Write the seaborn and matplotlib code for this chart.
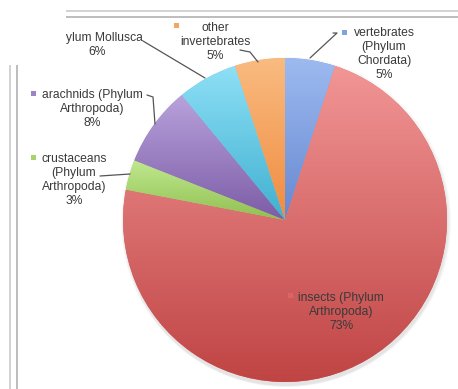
import matplotlib
matplotlib.use("Agg")
import matplotlib.pyplot as plt
import seaborn as sns
import numpy as np
from matplotlib.patches import Rectangle, Circle
from matplotlib.colors import to_rgb

# ---- data ----
categories = ["vertebrates\n(Phylum\nChordata)", "insects (Phylum\nArthropoda)",
              "crustaceans\n(Phylum\nArthropoda)", "arachnids (Phylum\nArthropoda)",
              "Phylum Mollusca", "other\ninvertebrates"]
values = [5, 73, 3, 8, 6, 5]
pct_labels = ["5%", "73%", "3%", "8%", "6%", "5%"]

# styles
colors = ["#7fa3e2", "#dc6464", "#a6d46c", "#9a84c6", "#70cce8", "#f5a665"]
colors_top = ["#9dbaf0", "#f29696", "#c0e890", "#b8a2dc", "#8ee0f6", "#f9bb80"]
colors_bot = ["#6688d0", "#c04444", "#90c050", "#7c5ca6", "#40b0d0", "#f08c40"]

sns.set_theme(style="white")
plt.rcParams['font.family'] = ['Liberation Sans', 'DejaVu Sans']

W, H = 458, 389
fig = plt.figure(figsize=(W / 100, H / 100), dpi=100)
fig.patch.set_facecolor("white")
ax = fig.add_axes([0, 0, 1, 1])

def Y(y):
    return H - y

cx, cy, r = 285, 220, 162

# soft shadow
for k, a in enumerate([0.05, 0.05, 0.05, 0.06]):
    ax.add_patch(Circle((cx + 1, Y(cy) - 2 - k * 0.6), r + 3 - k, color="#808080",
                        alpha=a, lw=0, zorder=0))

wedges, _ = ax.pie(values, colors=sns.color_palette(colors), startangle=90,
                   counterclock=False, center=(cx, Y(cy)), radius=r, frame=True,
                   wedgeprops=dict(linewidth=0, zorder=1))

# vertical gradient inside each wedge
t = np.linspace(0, 1, 256)[:, None, None]
for w, ct, cb in zip(wedges, colors_top, colors_bot):
    ext = w.get_path().get_extents()
    top = np.array(to_rgb(ct))[None, None, :]
    bot = np.array(to_rgb(cb))[None, None, :]
    img = top * (1 - t) + bot * t
    im = ax.imshow(img, extent=(ext.x0, ext.x1, ext.y0, ext.y1), origin="upper",
                   aspect="auto", interpolation="bilinear", zorder=2)
    im.set_clip_path(w)

ax.set_xlim(0, W)
ax.set_ylim(0, H)
ax.set_aspect("equal")
ax.axis("off")

# decorative frame lines of the screenshot
for yy, c in [(11, "#cfcfcf"), (17, "#b8b8b8")]:
    ax.plot([65, W], [Y(yy), Y(yy)], color=c, lw=1.3, solid_capstyle="butt")
for xx, c in [(10, "#cfcfcf"), (17, "#b8b8b8")]:
    ax.plot([xx, xx], [Y(65), Y(H)], color=c, lw=1.3, solid_capstyle="butt")

txtc = "#3a3a3a"
fs = 8.7
# label specs: (text center x, first line center y, marker x, marker y)
specs = [
    (384, 33, 344, 32),   # vertebrates
    (341, 298, 290, 295), # insects
    (74, 159, 33, 157),   # crustaceans
    (92, 95, 33, 93),     # arachnids
    (97, 38, None, None), # mollusca
    (215, 28, 176, 25),   # other invertebrates
]
for (tx, ty, mx, my), cat, pc, col in zip(specs, categories, pct_labels, colors):
    ax.text(tx, Y(ty - 6.5), cat + "\n" + pc, ha="center", va="top", fontsize=fs,
            color=txtc, linespacing=1.25, zorder=5)
    if mx is not None:
        ax.add_patch(Rectangle((mx - 2.5, Y(my) - 2.5), 5, 5, color=col, lw=0, zorder=5))

# white area of the screenshot hiding the start of the mollusc label
ax.add_patch(Rectangle((0, Y(64)), 65.5, 64, color="white", lw=0, zorder=6))

lc = "#555555"
lines = [
    [(333, 33), (337, 33), (310, 58)],        # vertebrates
    [(100, 176), (130, 174)],                 # crustaceans
    [(147, 95), (153, 97), (155, 124)],       # arachnids
    [(143, 41), (205, 78)],                   # mollusca
    [(240, 50), (250, 52), (258, 62)],        # other invertebrates
]
for pts in lines:
    ax.plot([p[0] for p in pts], [Y(p[1]) for p in pts], color=lc, lw=0.9, zorder=4)

fig.savefig("out.png", dpi=100, facecolor="white")
